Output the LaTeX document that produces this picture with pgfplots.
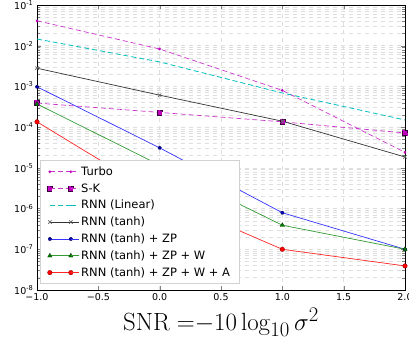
\documentclass[border=0pt]{standalone}
\usepackage[no-math]{fontspec}
\setmainfont{DejaVu Sans}
\usepackage{pgfplots}
\pgfplotsset{compat=1.18}
\usetikzlibrary{plotmarks}
\definecolor{mplmag}{rgb}{0.75,0,0.75}
\definecolor{mplcyan}{rgb}{0,0.75,0.75}
\definecolor{mplgreen}{rgb}{0,0.5,0}
\definecolor{gridc}{gray}{0.87}
\begin{document}
\begin{tikzpicture}
\useasboundingbox (0,0) rectangle (409pt,347pt);
\begin{axis}[
  at={(37pt,57pt)}, anchor=south west,
  scale only axis, width=368pt, height=285pt,
  ymode=log, xmin=-1, xmax=2, ymin=1e-8, ymax=1e-1,
  xtick={-1,-0.5,0,0.5,1,1.5,2},
  xticklabels={−1.0,−0.5,0.0,0.5,1.0,1.5,2.0},
  ytick={1e-8,1e-7,1e-6,1e-5,1e-4,1e-3,1e-2,1e-1},
  yticklabels={10\textsuperscript{-8},10\textsuperscript{-7},10\textsuperscript{-6},10\textsuperscript{-5},10\textsuperscript{-4},10\textsuperscript{-3},10\textsuperscript{-2},10\textsuperscript{-1}},
  minor x tick num=0,
  tick label style={font=\fontsize{9.5}{11}\selectfont},
  tick align=inside,
  grid=both,
  major grid style={gridc, dash pattern=on 4pt off 4pt, line width=0.5pt},
  minor grid style={gridc, dash pattern=on 4pt off 4pt, line width=0.5pt},
  axis line style={black, line width=0.8pt},
  xlabel={$\mathrm{SNR}\;{=}{-}10\log_{10}\sigma^2$},
  xlabel style={font=\fontsize{28}{30}\selectfont, yshift=-1pt},
  legend style={at={(0.008,0.021)}, anchor=south west, draw=gray!35, line width=0.6pt,
    font=\fontsize{11.5}{13.5}\selectfont, cells={anchor=west}, row sep=2.6pt,
    inner xsep=7pt, inner ysep=4pt},
  legend image code/.code={\draw[#1] plot coordinates {(0pt,0pt) (21pt,0pt)};
     \path (21pt,0pt) -- (29pt,0pt);},
  every axis plot/.append style={line width=0.7pt},
  mark options={solid},
]
\addplot[color=mplmag!80, draw=mplmag!80, dash pattern=on 5pt off 3pt, mark=*, mark size=1pt, mark options={fill=mplmag, draw=mplmag}] coordinates {(-1,0.041) (0,8.3e-3) (1,8e-4) (2,2.4e-5)};
\addlegendentry{Turbo}
\addplot[color=mplmag!80, draw=mplmag!80, dash pattern=on 5pt off 3pt, mark=square*, mark size=2.6pt, mark options={fill=mplmag, draw=black!70!mplmag, line width=0.4pt}] coordinates {(-1,3.9e-4) (0,2.3e-4) (1,1.35e-4) (2,7.2e-5)};
\addlegendentry{S-K}
\addplot[color=mplcyan, draw=mplcyan, line width=0.8pt, dash pattern=on 5pt off 3pt] coordinates {(-1,0.0146) (0,4e-3) (1,6.9e-4) (2,1.5e-4)};
\addlegendentry{RNN (Linear)}
\addplot[color=black!80, draw=black!80, mark=x, mark size=2.4pt, mark options={draw=black!60}] coordinates {(-1,2.8e-3) (0,6.1e-4) (1,1.4e-4) (2,1.85e-5)};
\addlegendentry{RNN (tanh)}
\addplot[color=blue!80, draw=blue!80, mark=pentagon*, mark size=1.8pt, mark options={fill=blue!70!black, draw=black!70!blue, line width=0.3pt}] coordinates {(-1,9.8e-4) (0,3.1e-5) (1,7.9e-7) (2,1e-7)};
\addlegendentry{RNN (tanh) + ZP}
\addplot[color=mplgreen!80, draw=mplgreen!80, mark=triangle*, mark size=2.5pt, mark options={fill=mplgreen, draw=black!60!mplgreen, line width=0.3pt}] coordinates {(-1,3.7e-4) (0,1.17e-5) (1,3.9e-7) (2,1e-7)};
\addlegendentry{RNN (tanh) + ZP + W}
\addplot[color=red!85, draw=red!85, mark=*, mark size=2.3pt, mark options={fill=red, draw=black!50!red, line width=0.3pt}] coordinates {(-1,1.35e-4) (0,2.0e-6) (1,1e-7) (2,3.9e-8)};
\addlegendentry{RNN (tanh) + ZP + W + A}
\end{axis}
\end{tikzpicture}
\end{document}
